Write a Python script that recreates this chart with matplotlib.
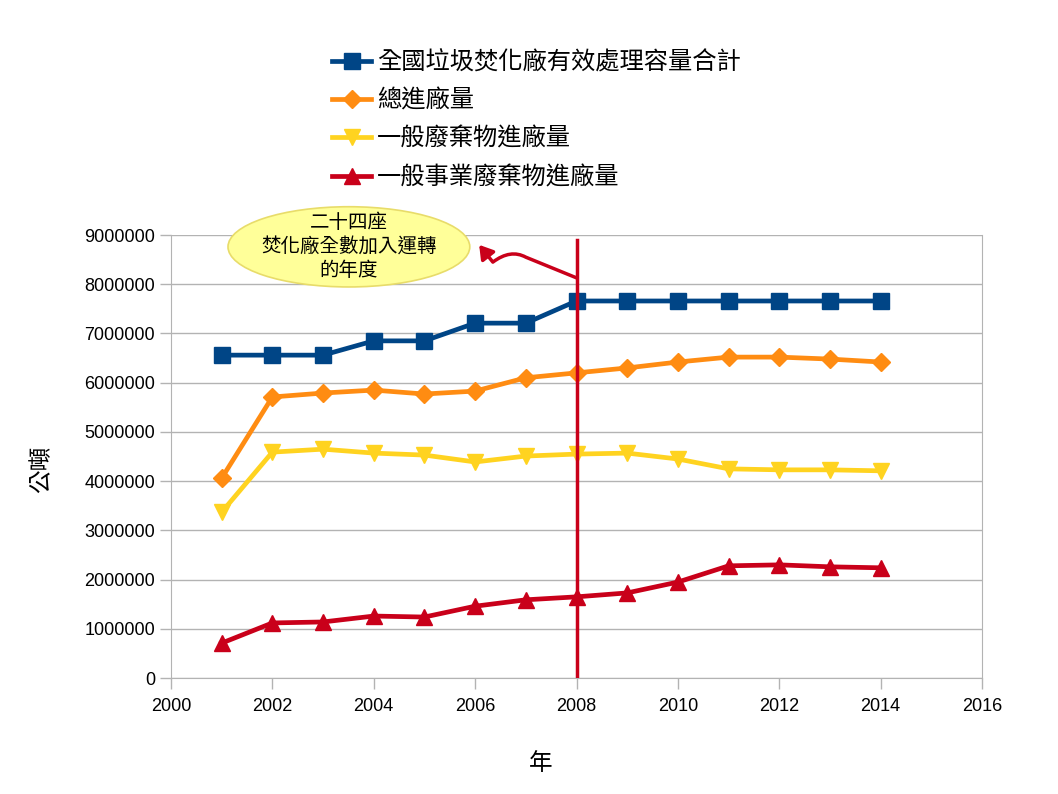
import matplotlib
matplotlib.use("Agg")
import matplotlib.pyplot as plt
from matplotlib.patches import Ellipse, FancyArrowPatch
from matplotlib.path import Path
from matplotlib.ticker import FuncFormatter

plt.rcParams['font.family'] = ['Liberation Sans', 'Noto Sans CJK TC', 'DejaVu Sans']

years = list(range(2001, 2015))
capacity = [6560000, 6560000, 6560000, 6850000, 6850000, 7210000, 7210000,
            7660000, 7660000, 7660000, 7660000, 7660000, 7660000, 7660000]
total_in = [4060000, 5710000, 5790000, 5850000, 5770000, 5830000, 6100000,
            6200000, 6300000, 6420000, 6520000, 6520000, 6480000, 6420000]
general_in = [3370000, 4590000, 4650000, 4570000, 4530000, 4390000, 4510000,
              4550000, 4570000, 4450000, 4250000, 4230000, 4230000, 4210000]
industrial_in = [710000, 1120000, 1140000, 1260000, 1240000, 1460000, 1590000,
                 1650000, 1730000, 1950000, 2280000, 2300000, 2260000, 2240000]

labels = ["全國垃圾焚化廠有效處理容量合計", "總進廠量", "一般廢棄物進廠量", "一般事業廢棄物進廠量"]
note = "二十四座\n焚化廠全數加入運轉\n的年度"
mark_year = 2008

fig = plt.figure(figsize=(10.58, 7.94), dpi=100)
ax = fig.add_axes([0.1616, 0.146, 0.7666, 0.558])

styles = [("#004586", "s"), ("#ff8c12", "D"), ("#ffd320", "v"), ("#c9001a", "^")]
sizes = [11, 9, 12, 11]
for vals, lab, (col, mk), ms in zip([capacity, total_in, general_in, industrial_in], labels, styles, sizes):
    ax.plot(years, vals, color=col, lw=3.4, marker=mk, ms=ms, mec=col, label=lab)

ax.set_xlim(2000, 2016)
ax.set_ylim(0, 9000000)
ax.set_xticks(range(2000, 2017, 2))
ax.set_yticks(range(0, 9000001, 1000000))
ax.yaxis.set_major_formatter(FuncFormatter(lambda v, p: f"{int(v)}"))
ax.tick_params(labelsize=13, length=8, color="#b3b3b3", width=1)
ax.tick_params(axis='x', pad=6)
ax.grid(axis='y', color="#b3b3b3", lw=1)
ax.set_axisbelow(True)
ax.spines['top'].set_visible(False)
for s in ['left', 'bottom', 'right']:
    ax.spines[s].set_color("#b3b3b3")

ax.set_xlabel("年", fontsize=17)
ax.xaxis.set_label_coords(0.456, -0.168)
ax.set_ylabel("公噸", fontsize=17)
ax.yaxis.set_label_coords(-0.145, 0.47)

# marker line for 2008 and callout
ax.plot([mark_year, mark_year], [0, 8900000], color="#c9001a", lw=2.5, zorder=5)
verts = [(mark_year, 8130000), (2007.0, 8550000), (2006.7, 8720000),
         (2006.35, 8450000), (2006.08, 8800000)]
codes = [Path.MOVETO, Path.LINETO, Path.CURVE3, Path.CURVE3, Path.LINETO]
arrow = FancyArrowPatch(path=Path(verts, codes), arrowstyle='-|>,head_length=8,head_width=5',
                        color="#c9001a", lw=2.5, clip_on=False, zorder=6)
ax.add_patch(arrow)

ell = Ellipse((2003.51, 8760000), 4.77, 1630000, facecolor="#ffff99",
              edgecolor="#e8dc6a", lw=1.2, clip_on=False, zorder=6)
ax.add_patch(ell)
ax.text(2003.51, 8760000, note, ha='center', va='center', fontsize=14,
        linespacing=1.35, zorder=7)

fig.legend(loc='upper left', bbox_to_anchor=(0.305, 0.948), frameon=False,
           fontsize=17.5, handlelength=1.6, handletextpad=0.25, labelspacing=0.62,
           borderaxespad=0)

fig.savefig("out.png", dpi=100)
